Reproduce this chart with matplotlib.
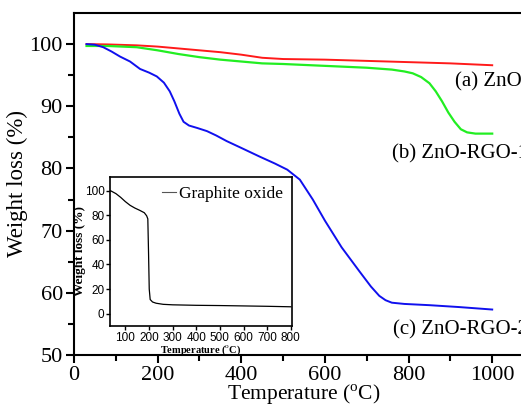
import numpy as np
import matplotlib.pyplot as plt

plt.rcParams['font.family'] = 'Liberation Serif'
plt.rcParams['mathtext.fontset'] = 'custom'
plt.rcParams['mathtext.rm'] = 'Liberation Serif'

# TGA curves, temperature in degC, remaining weight in %
temp_a = [30, 80, 150, 200, 250, 300, 350, 400, 450, 500, 600, 700, 800, 900, 1000]
zno = [100.0, 99.95, 99.8, 99.6, 99.3, 99.0, 98.7, 98.3, 97.8, 97.6, 97.5, 97.3, 97.1, 96.9, 96.6]

temp_b = [30, 80, 150, 200, 250, 300, 350, 400, 450, 500, 600, 700, 760, 790, 810, 830,
          850, 865, 880, 895, 910, 925, 940, 960, 1000]
zno_rgo1 = [99.7, 99.7, 99.5, 99.0, 98.4, 97.9, 97.5, 97.2, 96.9, 96.8, 96.5, 96.2, 95.9,
            95.6, 95.3, 94.7, 93.7, 92.4, 90.8, 89.0, 87.5, 86.3, 85.8, 85.6, 85.6]

temp_c = [30, 50, 70, 90, 110, 134, 158, 180, 198, 215, 229, 240, 252, 262, 275, 295,
          318, 340, 365, 400, 444, 480, 510, 540, 571, 600, 640, 683, 710, 730, 745,
          760, 790, 850, 920, 1000]
zno_rgo2 = [100.0, 99.9, 99.5, 98.8, 98.0, 97.2, 96.0, 95.4, 94.8, 93.8, 92.4, 90.8,
            88.8, 87.5, 86.9, 86.5, 86.0, 85.3, 84.4, 83.3, 81.9, 80.8, 79.8, 78.2, 75.0,
            71.6, 67.3, 63.4, 61.0, 59.5, 58.8, 58.4, 58.2, 58.0, 57.7, 57.3]

# inset: graphite oxide
temp_go = [36, 60, 80, 100, 120, 140, 160, 180, 190, 195, 198, 201, 205, 215, 230, 260,
           300, 400, 500, 600, 700, 800]
go = [100, 97.5, 94.5, 91.0, 88.0, 85.8, 84.0, 82.0, 79.5, 77.0, 50, 20, 11.5, 9.5, 8.5,
      7.6, 7.2, 6.8, 6.6, 6.3, 6.0, 5.6]

fig = plt.figure(figsize=(5.21, 4.07), dpi=100)
ax = fig.add_axes([0.142, 0.128, 0.883, 0.840])

ax.plot(temp_a, zno, color='#ff1a1a', lw=1.4)
ax.plot(temp_b, zno_rgo1, color='#22ee22', lw=1.6)
ax.plot(temp_c, zno_rgo2, color='#1010ee', lw=1.4)

ax.set_xlim(0, 1100)
ax.set_ylim(50, 105)
ax.set_xticks([0, 200, 400, 600, 800, 1000])
ax.set_xticks(np.arange(100, 1100, 200), minor=True)
ax.set_yticks([50, 60, 70, 80, 90, 100])
ax.set_yticks([55, 65, 75, 85, 95], minor=True)
ax.tick_params(which='both', direction='out', width=1.5, labelsize=16)
ax.tick_params(which='major', length=6, pad=2)
ax.tick_params(which='minor', length=4)
for s in ax.spines.values():
    s.set_linewidth(1.5)

ax.set_xlabel(r'Temperature ($^{\rm o}$C)', fontsize=15.5, labelpad=-1.5)
ax.set_ylabel('Weight loss (%)', fontsize=16.5, labelpad=1)

# sample labels run past the right edge of the figure
ax.text(910, 94.0, '(a) ZnO', fontsize=15, va='center')
ax.text(760, 82.3, '(b) ZnO-RGO-1', fontsize=15, va='center')
ax.text(762, 54.0, '(c) ZnO-RGO-2', fontsize=15, va='center')

ins = fig.add_axes([110 / 521, 1 - 326 / 407, 182 / 521, 149 / 407])
ins.plot(temp_go, go, color='black', lw=0.9)
ins.plot([], [], color='#555555', lw=0.8, label='Graphite oxide')
ins.set_xlim(35, 805)
ins.set_ylim(-10, 111)
ins.set_xticks(np.arange(100, 900, 100))
ins.set_yticks([0, 20, 40, 60, 80, 100])
ins.tick_params(direction='out', length=3, width=1, labelsize=8.5, pad=1)
for lab in ins.get_xticklabels() + ins.get_yticklabels():
    lab.set_family('Liberation Sans')
for s in ins.spines.values():
    s.set_linewidth(1.2)
ins.set_xlabel(r'Temperature ($^{\rm o}$C)', fontsize=7.5, fontweight='bold', labelpad=0)
ins.set_ylabel('Weight loss (%)', fontsize=9.5, fontweight='bold', labelpad=-1)
ins.legend(loc='upper right', frameon=False, fontsize=12.5, handlelength=0.8,
           handletextpad=0.2, borderaxespad=0.1)

fig.savefig('out.png', dpi=100)
